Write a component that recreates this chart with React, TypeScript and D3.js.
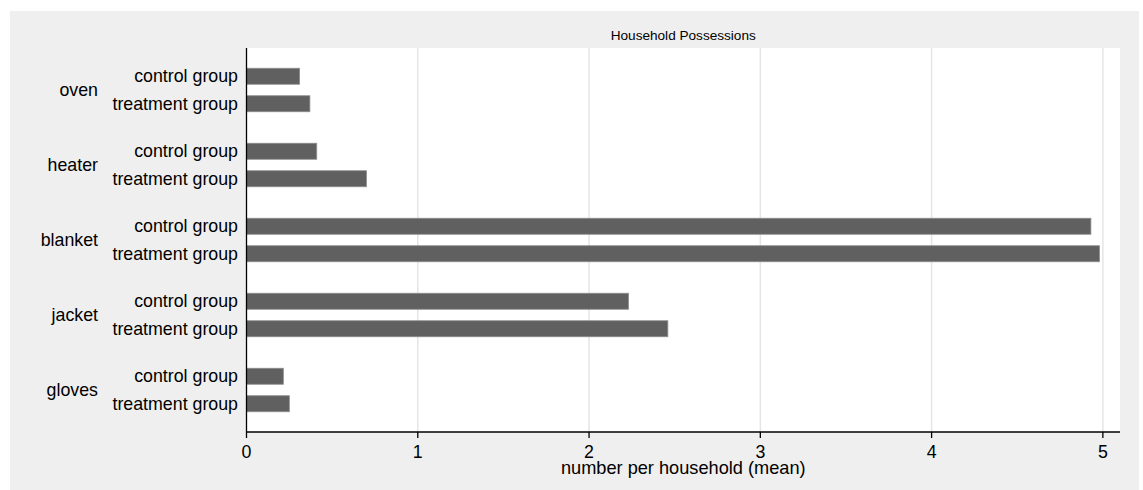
import React from "react";
import * as d3 from "d3";

const categories = ["oven", "heater", "blanket", "jacket", "gloves"];
const groups = ["control group", "treatment group"];
const controlValues = [0.31, 0.41, 4.93, 2.23, 0.215];
const treatmentValues = [0.37, 0.7, 4.98, 2.46, 0.25];
const xTicks = [0, 1, 2, 3, 4, 5];
const title = "Household Possessions";
const xTitle = "number per household (mean)";

const W = 1143;
const H = 490;
const FONT = "'Liberation Sans', Arial, sans-serif";

export default function App() {
  const plot = { left: 246.5, right: 1120, top: 48, bottom: 432 };
  const x = d3.scaleLinear().domain([0, 5.1]).range([plot.left, plot.right]);
  const yGroup = d3.scaleBand().domain(categories).range([52.5, 427.5]);
  const ySub = d3.scaleBand().domain(groups).range([-21.75, 21.75]).paddingInner(0.418);
  const barH = 16;
  const series = [controlValues, treatmentValues];
  const fs = 17.8;

  return (
    <svg
      width={W}
      height={H}
      style={{ position: "absolute", left: 0, top: 0 }}
      fontFamily={FONT}
    >
      <rect x={0} y={0} width={W} height={H} fill="#ffffff" />
      <rect x={10} y={11} width={1129} height={H - 11} fill="#efefef" />
      <rect
        x={plot.left}
        y={plot.top}
        width={plot.right - plot.left}
        height={plot.bottom - plot.top}
        fill="#ffffff"
      />
      <text x={(plot.left + plot.right) / 2} y={40} textAnchor="middle" fontSize={13.6} fill="#000">
        {title}
      </text>
      {xTicks
        .filter((t) => t > 0)
        .map((t) => (
          <line
            key={"g" + t}
            x1={x(t)}
            x2={x(t)}
            y1={plot.top}
            y2={plot.bottom}
            stroke="#e5e5e5"
            strokeWidth={1.5}
          />
        ))}
      {categories.map((c, i) => {
        const gc = (yGroup(c) as number) + yGroup.bandwidth() / 2;
        return (
          <g key={c}>
            <text x={98} y={gc} textAnchor="end" dominantBaseline="central" fontSize={fs} fill="#000">
              {c}
            </text>
            {groups.map((g, j) => {
              const sc = gc + (ySub(g) as number) + ySub.bandwidth() / 2;
              const v = series[j][i];
              return (
                <g key={g}>
                  <text x={238} y={sc} textAnchor="end" dominantBaseline="central" fontSize={fs} fill="#000">
                    {g}
                  </text>
                  <rect
                    x={x(0)}
                    y={sc - barH / 2}
                    width={x(v) - x(0)}
                    height={barH}
                    fill="#606060"
                    stroke="#8c8c8c"
                    strokeWidth={0.8}
                  />
                </g>
              );
            })}
          </g>
        );
      })}
      <line x1={plot.left} x2={plot.left} y1={plot.top} y2={plot.bottom} stroke="#000" strokeWidth={1.3} />
      <line x1={plot.left} x2={plot.right} y1={plot.bottom} y2={plot.bottom} stroke="#000" strokeWidth={1.3} />
      {xTicks.map((t) => (
        <g key={"t" + t}>
          <line x1={x(t)} x2={x(t)} y1={plot.bottom} y2={plot.bottom + 6} stroke="#000" strokeWidth={1.3} />
          <text x={x(t)} y={458} textAnchor="middle" fontSize={fs} fill="#000">
            {t}
          </text>
        </g>
      ))}
      <text x={(plot.left + plot.right) / 2} y={474} textAnchor="middle" fontSize={18.2} fill="#000">
        {xTitle}
      </text>
    </svg>
  );
}
